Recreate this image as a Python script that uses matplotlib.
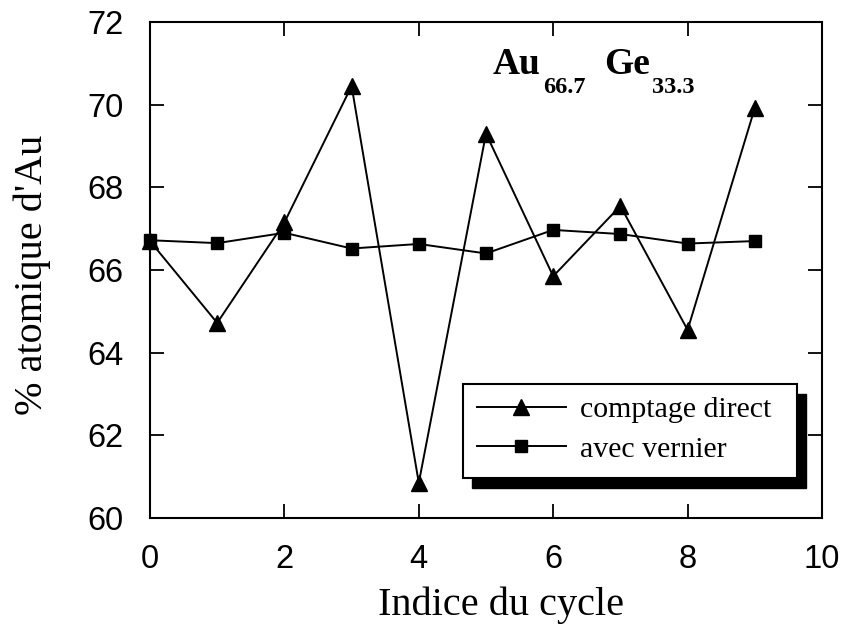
import matplotlib
matplotlib.use("Agg")
import matplotlib.pyplot as plt
from matplotlib.patches import Rectangle

# cycle index and measured Au atomic percentage for the two counting methods
cycles = [0, 1, 2, 3, 4, 5, 6, 7, 8, 9]
direct = [66.7, 64.72, 67.15, 70.45, 60.85, 69.3, 65.85, 67.55, 64.55, 69.92]
vernier = [66.72, 66.65, 66.9, 66.52, 66.63, 66.4, 66.97, 66.87, 66.64, 66.7]

label_direct = "comptage direct"
label_vernier = "avec vernier"
xlabel = "Indice du cycle"
ylabel = "% atomique d'Au"
xticks = [0, 2, 4, 6, 8, 10]
yticks = [60, 62, 64, 66, 68, 70, 72]

W, H = 843, 633
serif = "Liberation Serif"
sans = "Liberation Sans"

fig = plt.figure(figsize=(W / 100, H / 100), dpi=100)
ax = fig.add_axes([150 / W, 1 - 518 / H, 672 / W, 496 / H])

ax.plot(cycles, direct, color="black", lw=1.4, marker="^", ms=12,
        mfc="black", mec="black", label=label_direct, clip_on=False, zorder=3)
ax.plot(cycles, vernier, color="black", lw=1.4, marker="s", ms=9,
        mfc="black", mec="black", label=label_vernier, clip_on=False, zorder=3)

ax.set_xlim(0, 10)
ax.set_ylim(60, 72)
ax.set_xticks(xticks)
ax.set_yticks(yticks)
ax.tick_params(direction="in", length=10, width=1.3, top=True, right=True,
               labelsize=23.5, pad=19)
for lab in ax.get_xticklabels() + ax.get_yticklabels():
    lab.set_fontfamily(sans)
for sp in ax.spines.values():
    sp.set_linewidth(1.5)

ax.set_xlabel(xlabel, fontsize=29, fontfamily=serif)
ax.set_ylabel(ylabel, fontsize=29, fontfamily=serif)
ax.xaxis.set_label_coords(0.523, -0.138)
ax.yaxis.set_label_coords(-0.148, 0.49)

# legend box with a solid offset shadow
bx, by, bw, bh = 0.466, 0.081, 0.497, 0.189
dx, dy = 9 / 672, 10 / 496
ax.add_patch(Rectangle((bx + dx, by - dy), bw, bh, transform=ax.transAxes,
                       facecolor="black", edgecolor="black", zorder=4))
ax.add_patch(Rectangle((bx, by), bw, bh, transform=ax.transAxes,
                       facecolor="white", edgecolor="black", lw=1.5, zorder=5))
leg = ax.legend(loc="upper left", bbox_to_anchor=(0.486, 0.245), frameon=False,
                prop={"family": serif, "size": 21.5}, handlelength=3.0,
                handletextpad=0.45, labelspacing=0.42, borderpad=0,
                borderaxespad=0, numpoints=1)
leg.set_zorder(6)

# composition label with subscripts
def px(x, y):
    return x / W, 1 - y / H

fig.text(*px(493, 74), "Au", fontsize=27, fontweight="bold", fontfamily=serif)
fig.text(*px(543, 93), "66.7", fontsize=17.5, fontweight="bold", fontfamily=serif)
fig.text(*px(604, 74), "Ge", fontsize=27, fontweight="bold", fontfamily=serif)
fig.text(*px(652, 93), "33.3", fontsize=17.5, fontweight="bold", fontfamily=serif)

fig.savefig("out.png", dpi=100)
